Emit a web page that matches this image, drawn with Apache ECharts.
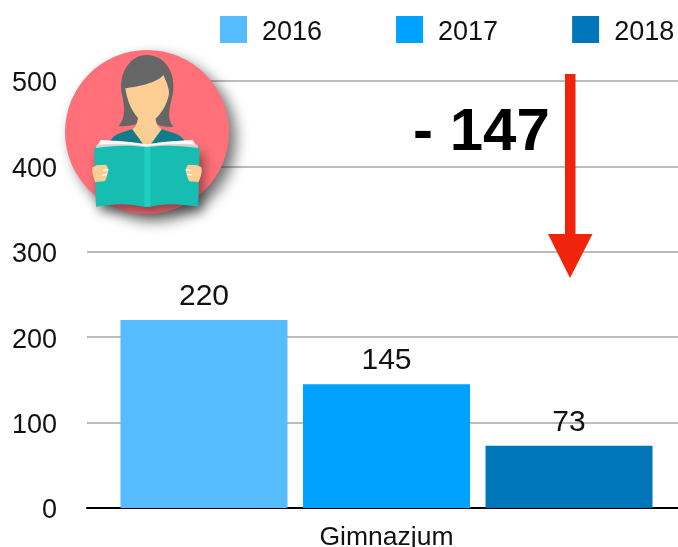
<!DOCTYPE html>
<html>
<head>
<meta charset="utf-8">
<title>Gimnazjum</title>
<style>
  html, body { margin: 0; padding: 0; background: #fff; overflow: hidden; }
  #chart { width: 678px; height: 547px; }
</style>
<script src="https://cdn.jsdelivr.net/npm/echarts@6/dist/echarts.min.js"></script>
</head>
<body>
<div id="chart"></div>
<script>
const categories = ['Gimnazjum'];
const years = ['2016', '2017', '2018'];
const values = [220, 145, 73];
const colors = ['#55bcff', '#00a2ff', '#0076ba'];
const font = '"Liberation Sans", Helvetica, Arial, sans-serif';

const chart = echarts.init(document.getElementById('chart'));

// czytajaca postac, rysowana w ukladzie powiekszonego wycinka (skala 1/3)
const reader = [
  { d: 'M205 258C230 235 222 190 215 160C205 100 240 45 290 45C340 45 375 90 370 150C365 190 345 230 370 260C340 265 320 250 290 250C260 250 235 262 205 258Z', fill: '#666666' },
  { d: 'M182 300C195 280 225 275 245 268L335 268C355 275 390 280 402 300L402 330L182 330Z', fill: '#0f7d8a' },
  { d: 'M247 268C262 258 264 238 265 220L315 220C316 238 318 258 335 268L300 316L282 316Z', fill: '#fdce93' },
  { d: 'M226 145C260 140 320 130 340 105C352 130 358 150 357 160C352 200 320 245 290 250C265 245 235 205 226 145Z', fill: '#fdce93' },
  { d: 'M152 300C200 303 250 305 290 313C330 305 380 303 428 300L442 322L140 322Z', fill: '#ffffff' },
  { d: 'M140 314C190 312 250 312 290 320C330 312 390 312 442 314L446 330L136 330Z', fill: '#dcdcdc' },
  { d: 'M132 325C190 315 250 315 290 322C330 315 390 315 449 325L445 500C390 490 340 490 300 500L282 500C240 490 190 490 138 500Z', fill: '#17bdb0', shadow: true },
  { d: 'M283 322L301 320L301 500L283 500Z', fill: '#20d0c0' },
  { d: 'M140 376L168 374C172 380 176 386 175 392C172 402 170 415 164 424L136 426C130 412 124 395 128 382Z', fill: '#fdce93' },
  { d: 'M442 376L414 374C410 380 406 386 407 392C410 402 412 415 418 424L446 426C452 412 458 395 454 382Z', fill: '#fdce93' },
  { d: 'M158 389L175 387L175 392L158 394ZM158 403L172 401L171 405L158 407ZM424 389L407 387L407 392L424 394ZM424 403L410 401L411 405L424 407Z', fill: '#ffffff' }
];

// komponent graphic nie ma typu path, wiec kazdy ksztalt rejestrujemy osobno
reader.forEach((p, i) => {
  echarts.graphic.registerShape('reader' + i, echarts.graphic.extendPath(p.d, {}));
});

const option = {
  animation: false,
  backgroundColor: '#ffffff',
  textStyle: { fontFamily: font },
  legend: {
    left: 215,
    top: 11,
    width: 500,
    icon: 'rect',
    itemWidth: 27,
    itemHeight: 27,
    itemGap: 74,
    data: years,
    formatter: '{t|{name}}',
    textStyle: {
      padding: [0, 0, 0, 10],
      rich: { t: { fontFamily: font, fontSize: 27, color: '#111', padding: [6, 0, 0, 0] } }
    }
  },
  grid: { left: 87, right: -8, top: 81, bottom: 39, outerBoundsMode: 'none' },
  xAxis: {
    type: 'category',
    data: categories,
    axisTick: { show: false },
    axisLine: { lineStyle: { color: '#000', width: 2 } },
    axisLabel: { fontFamily: font, fontSize: 26.5, color: '#111', margin: 16 }
  },
  yAxis: {
    type: 'value',
    min: 0,
    max: 500,
    interval: 100,
    axisLine: { show: false },
    axisTick: { show: false },
    splitLine: { lineStyle: { color: '#bbbbbb', width: 2 } },
    axisLabel: {
      margin: 30,
      formatter: '{t|{value}}',
      rich: { t: { fontFamily: font, fontSize: 27, color: '#111', padding: [6, 0, 0, 0] } }
    }
  },
  series: years.map((year, i) => ({
    name: year,
    type: 'bar',
    barWidth: 167,
    barGap: '9.3%',
    data: [values[i]],
    itemStyle: { color: colors[i] },
    label: {
      show: true,
      position: 'top',
      distance: 8,
      fontFamily: font,
      fontSize: 30,
      color: '#111'
    }
  })),
  graphic: [
    // roznica miedzy 2016 a 2018
    {
      type: 'text',
      x: 413,
      y: 103,
      z: 10,
      style: {
        text: '- ' + (values[0] - values[2]),
        font: 'bold 60px ' + font,
        fill: '#000'
      }
    },
    // strzalka w dol
    {
      type: 'polygon',
      z: 10,
      shape: { points: [[565, 74], [575.5, 74], [575.5, 234], [592.5, 234], [570, 278], [548, 234], [565, 234]] },
      style: { fill: '#f0230c' }
    },
    {
      type: 'circle',
      z: 10,
      shape: { cx: 147, cy: 132, r: 82 },
      style: {
        fill: '#ff7079',
        shadowColor: 'rgba(0,0,0,0.55)',
        shadowBlur: 14,
        shadowOffsetX: 7,
        shadowOffsetY: 7
      }
    },
    {
      type: 'group',
      x: 50,
      y: 40,
      scaleX: 1 / 3,
      scaleY: 1 / 3,
      z: 11,
      children: reader.map((p, i) => ({
        type: 'reader' + i,
        z: 11,
        style: p.shadow
          ? { fill: p.fill, shadowColor: 'rgba(0,0,0,0.45)', shadowBlur: 12, shadowOffsetX: 4, shadowOffsetY: 6 }
          : { fill: p.fill }
      }))
    }
  ]
};

chart.setOption(option);
</script>
</body>
</html>
